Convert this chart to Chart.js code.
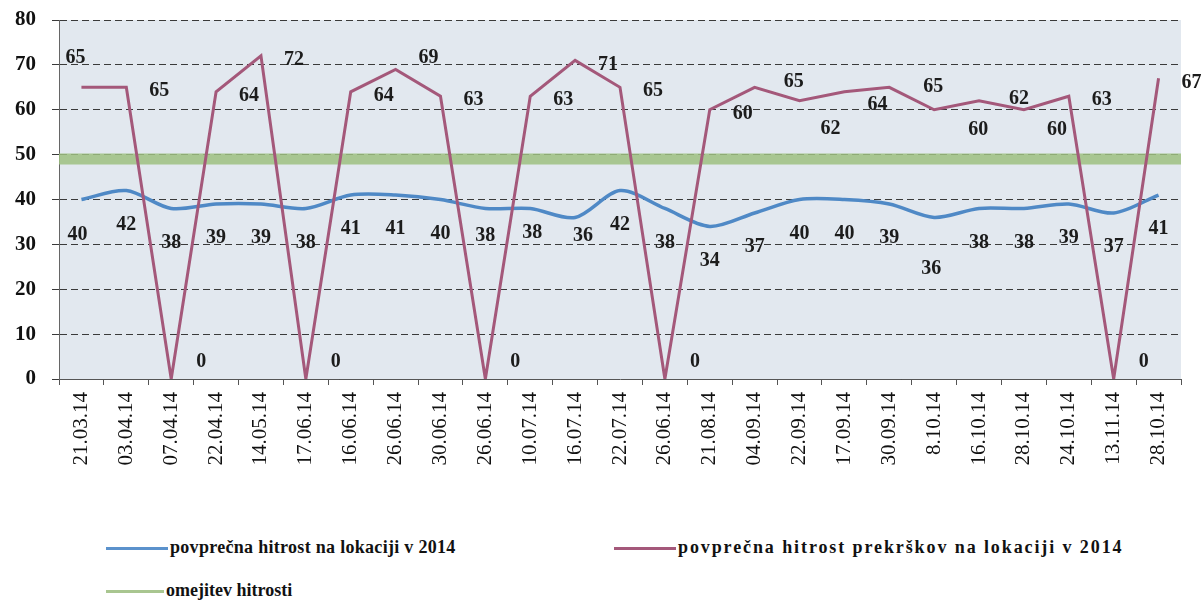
<!DOCTYPE html>
<html>
<head>
<meta charset="utf-8">
<script src="https://cdn.jsdelivr.net/npm/chart.js@4"></script>
<style>
  html, body { margin: 0; padding: 0; background: #fff; }
  #wrap { position: relative; width: 1203px; height: 603px; overflow: hidden; }
  #box { position: absolute; left: 0; top: 0; width: 1203px; height: 500px; }
  .leg { position: absolute; font-family: 'Liberation Serif', serif; font-size: 18px; font-weight: bold; color: #111; white-space: nowrap; line-height: 20px; }
  .leg i { display: inline-block; width: 62px; height: 3px; vertical-align: middle; margin-right: 2px; }
</style>
</head>
<body>
<div id="wrap">
  <div id="box"><canvas id="chart"></canvas></div>
  <div class="leg" style="left:106px;top:537px;letter-spacing:0.3px"><i style="background:#5b92cc"></i>povprečna hitrost na lokaciji v 2014</div>
  <div class="leg" style="left:614px;top:537px;letter-spacing:1.9px"><i style="background:#a4587a"></i>povprečna hitrost prekrškov na lokaciji v 2014</div>
  <div class="leg" style="left:106px;top:580px"><i style="background:#a9c690;width:58px"></i>omejitev hitrosti</div>
</div>
<script>
// Chart data
const dateLabels = [
  '21.03.14', '03.04.14', '07.04.14', '22.04.14', '14.05.14', '17.06.14', '16.06.14',
  '26.06.14', '30.06.14', '26.06.14', '10.07.14', '16.07.14', '22.07.14', '26.06.14',
  '21.08.14', '04.09.14', '22.09.14', '17.09.14', '30.09.14', '8.10.14', '16.10.14',
  '28.10.14', '24.10.14', '13.11.14', '28.10.14'
];
const avgSpeed = [40, 42, 38, 39, 39, 38, 41, 41, 40, 38, 38, 36, 42, 38, 34, 37, 40, 40, 39, 36, 38, 38, 39, 37, 41];
const violationSpeed = [65, 65, 0, 64, 72, 0, 64, 69, 63, 0, 63, 71, 65, 0, 60, 65, 62, 64, 65, 60, 62, 60, 63, 0, 67];
const speedLimit = 49;
const yMin = 0, yMax = 80, yStep = 10;

const FONT = "'Liberation Serif', 'Times New Roman', serif";

// plot background
const plotBg = {
  id: 'plotBg',
  beforeDraw(chart) {
    const a = chart.chartArea;
    const ctx = chart.ctx;
    ctx.save();
    ctx.fillStyle = '#e2e8ef';
    ctx.fillRect(a.left, a.top, a.right - a.left, a.bottom - a.top);
    ctx.restore();
  }
};

// value labels next to the points, offsets per series
const valueLabels = {
  id: 'valueLabels',
  afterDatasetsDraw(chart, args, opts) {
    const ctx = chart.ctx;
    ctx.save();
    ctx.font = 'bold 20px ' + FONT;
    ctx.fillStyle = '#1c1c1c';
    ctx.textAlign = 'center';
    ctx.textBaseline = 'middle';
    chart.data.datasets.forEach((ds, di) => {
      const cfg = opts.series[di];
      if (!cfg) return;
      chart.getDatasetMeta(di).data.forEach((pt, i) => {
        const v = ds.data[i];
        let off = (v === 0 && cfg.zero) ? cfg.zero : cfg.base;
        if (cfg.special && cfg.special[i]) off = cfg.special[i];
        ctx.fillText(String(v), pt.x + off[0], pt.y + off[1]);
      });
    });
    ctx.restore();
  }
};

const n = dateLabels.length;

new Chart(document.getElementById('chart'), {
  type: 'line',
  data: {
    labels: dateLabels,
    datasets: [
      {
        label: 'povprečna hitrost prekrškov na lokaciji v 2014',
        data: violationSpeed,
        borderColor: '#a4587a',
        borderWidth: 3,
        pointRadius: 0,
        tension: 0,
      },
      {
        label: 'povprečna hitrost na lokaciji v 2014',
        data: avgSpeed,
        borderColor: '#4f89c6',
        borderWidth: 3.5,
        pointRadius: 0,
        tension: 0.3,
      },
      {
        label: 'omejitev hitrosti',
        data: [{ x: -0.5, y: speedLimit }, { x: n - 0.5, y: speedLimit }],
        xAxisID: 'xl',
        borderColor: 'rgba(158,192,128,0.85)',
        borderWidth: 11,
        pointRadius: 0,
      },
    ],
  },
  options: {
    responsive: true,
    maintainAspectRatio: false,
    animation: false,
    layout: { padding: { top: 20, right: 22, bottom: 0, left: 0 } },
    plugins: {
      legend: { display: false },
      tooltip: { enabled: false },
      valueLabels: {
        series: {
          0: {
            base: [33, 4],
            zero: [30, -17],
            special: { 0: [-6, -29], 7: [33, -12], 15: [39, -5], 16: [31, 28], 17: [33, 13], 18: [44, 0], 19: [44, 20], 20: [40, -2], 21: [33, 20] },
          },
          1: {
            base: [0, 34],
            special: { 0: [-4, 35], 11: [8, 18], 10: [2, 24], 9: [0, 27], 19: [-3, 51] },
          },
        },
      },
    },
    scales: {
      x: {
        offset: true,
        grid: { display: true, drawOnChartArea: false, drawTicks: true, tickLength: 6, offset: true, color: '#555' },
        border: { display: true, color: '#555', width: 1 },
        ticks: {
          minRotation: 90, maxRotation: 90, autoSkip: false, padding: 7,
          color: '#111', font: { family: FONT, size: 21 },
        },
        afterFit(scale) { scale.height = 121; },
      },
      xl: {
        type: 'linear',
        display: false,
        min: -0.5,
        max: n - 0.5,
      },
      y: {
        min: yMin,
        max: yMax,
        grid: { color: '#3a3a3a', lineWidth: 1, tickLength: 7 },
        border: { display: true, color: '#666', width: 1, dash: [7, 4] },
        ticks: {
          stepSize: yStep, padding: 16, color: '#111',
          font: { family: FONT, size: 21, weight: 'bold' },
        },
        afterFit(scale) {
          scale.width = 59;
          scale.paddingTop = 0;
          scale.paddingBottom = 0;
        },
      },
    },
  },
  plugins: [plotBg, valueLabels],
});
</script>
</body>
</html>
